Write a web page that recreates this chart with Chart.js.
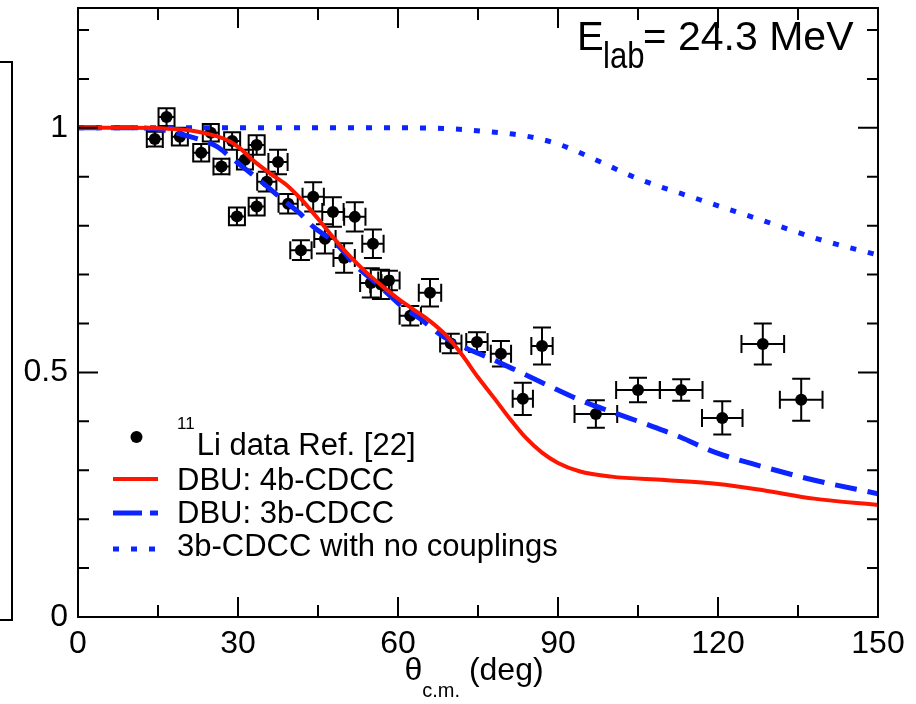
<!DOCTYPE html>
<html>
<head>
<meta charset="utf-8">
<script src="https://cdn.jsdelivr.net/npm/chart.js@4.4.1/dist/chart.umd.min.js"></script>
<style>
  html, body { margin: 0; padding: 0; background: #fff; }
  #wrap { width: 916px; height: 704px; }
</style>
</head>
<body>
<div id="wrap"><canvas id="chart" width="916" height="704"></canvas></div>
<script>
// measured 11Li elastic ratio (theta in deg, ratio, errors)
const thetaData = [14.4, 16.6, 19.1, 23.1, 24.9, 26.9, 28.9, 29.8, 31.3, 33.5, 33.5, 35.4, 37.5, 39.4,
  41.8, 44.1, 46.3, 47.8, 49.9, 51.9, 54.9, 55.3, 56.8, 58.3, 62.3, 66.0, 69.9, 74.8, 79.3, 83.4, 87.0,
  97.1, 105.0, 113.1, 120.8, 128.4, 135.6];
const ratioData = [0.977, 1.022, 0.982, 0.949, 0.990, 0.921, 0.973, 0.819, 0.935, 0.839, 0.965, 0.890, 0.930, 0.845,
  0.750, 0.859, 0.773, 0.828, 0.734, 0.818, 0.683, 0.763, 0.680, 0.688, 0.616, 0.663, 0.559, 0.562, 0.538, 0.446, 0.554,
  0.415, 0.464, 0.464, 0.407, 0.558, 0.444];
const thetaErr = [1.5, 1.5, 1.5, 1.5, 1.5, 1.5, 1.5, 1.5, 1.5, 1.5, 1.5, 1.8, 1.8, 1.8,
  2.0, 2.0, 2.0, 2.0, 2.0, 2.0, 2.0, 2.0, 2.0, 2.0, 2.0, 2.1, 2.0, 2.0, 1.9, 1.9, 2.0,
  4.0, 4.1, 4.0, 3.8, 4.0, 4.0];
const ratioErr = [0.015, 0.018, 0.018, 0.018, 0.018, 0.016, 0.018, 0.018, 0.02, 0.018, 0.02, 0.02, 0.025, 0.02,
  0.02, 0.03, 0.03, 0.03, 0.03, 0.03, 0.03, 0.029, 0.03, 0.02, 0.02, 0.028, 0.02, 0.02, 0.026, 0.033, 0.038,
  0.028, 0.025, 0.022, 0.034, 0.042, 0.043];

// DBU: 4b-CDCC
const theta4b = [0, 10, 17, 22, 26, 28.5, 30.5, 33, 36, 39, 42, 45, 48, 51, 54, 57, 60, 63, 66, 69,
  72, 75, 78, 81, 84, 87, 90, 94, 100, 110, 120, 128.5, 138, 150];
const ratio4b = [1.0, 1.0, 0.998, 0.993, 0.983, 0.972, 0.957, 0.932, 0.907, 0.884, 0.852, 0.814, 0.774, 0.737, 0.705, 0.677, 0.651, 0.628, 0.605, 0.576,
  0.536, 0.490, 0.448, 0.405, 0.366, 0.336, 0.315, 0.298, 0.287, 0.280, 0.272, 0.259, 0.242, 0.229];

// DBU: 3b-CDCC
const theta3b = [0, 10, 15, 21, 26, 28.5, 31.6, 34.7, 38.2, 41.6, 44.1, 48.5, 52.3, 56, 60, 64.1, 68.5, 72.9,
  76.6, 82, 88, 94, 100.4, 106.6, 112.9, 119.1, 128.5, 137.9, 150];
const ratio3b = [1.0, 1.0, 0.997, 0.982, 0.962, 0.941, 0.914, 0.887, 0.855, 0.825, 0.798, 0.762, 0.716, 0.682, 0.642, 0.61, 0.573, 0.549,
  0.532, 0.505, 0.474, 0.444, 0.418, 0.394, 0.368, 0.338, 0.307, 0.280, 0.252];

// 3b-CDCC with no couplings
const thetaNoCoup = [0, 30, 60, 70, 76, 83, 90, 98, 105, 116.6, 128, 139, 150];
const ratioNoCoup = [1.0, 1.0, 1.0, 0.998, 0.993, 0.985, 0.967, 0.93, 0.896, 0.853, 0.812, 0.772, 0.740];

const xLabelStep = 30;
const xMinorStep = 15;
const yLabels = { 0: '0', 0.5: '0.5', 1: '1' };

const FONT = '"Liberation Sans", Arial, Helvetica, sans-serif';
const RED = 'rgb(255,22,0)';
const BLUE = 'rgb(12,36,255)';

const pairs = (xs, ys) => xs.map((x, i) => ({ x: x, y: ys[i] }));

const dataPoints = thetaData.map((x, i) => ({ x: x, y: ratioData[i], dx: thetaErr[i], dy: ratioErr[i] }));

// error bars with caps, under the markers
const errorBars = {
  id: 'errorBars',
  beforeDatasetsDraw(chart) {
    const ctx = chart.ctx;
    const xs = chart.scales.x, ys = chart.scales.y;
    const cap = 9;
    ctx.save();
    ctx.strokeStyle = '#000';
    ctx.lineWidth = 2;
    dataPoints.forEach(p => {
      const cx = xs.getPixelForValue(p.x), cy = ys.getPixelForValue(p.y);
      const x0 = xs.getPixelForValue(p.x - p.dx), x1 = xs.getPixelForValue(p.x + p.dx);
      const y0 = ys.getPixelForValue(p.y - p.dy), y1 = ys.getPixelForValue(p.y + p.dy);
      ctx.beginPath();
      ctx.moveTo(x0, cy); ctx.lineTo(x1, cy);
      ctx.moveTo(cx, y0); ctx.lineTo(cx, y1);
      ctx.moveTo(x0, cy - cap); ctx.lineTo(x0, cy + cap);
      ctx.moveTo(x1, cy - cap); ctx.lineTo(x1, cy + cap);
      ctx.moveTo(cx - cap, y0); ctx.lineTo(cx + cap, y0);
      ctx.moveTo(cx - cap, y1); ctx.lineTo(cx + cap, y1);
      ctx.stroke();
    });
    ctx.restore();
  }
};

// frame, inward ticks, legend, titles
const decorations = {
  id: 'decorations',
  afterDraw(chart) {
    const ctx = chart.ctx;
    const a = chart.chartArea;
    const xs = chart.scales.x, ys = chart.scales.y;
    ctx.save();
    ctx.strokeStyle = '#000';
    ctx.lineWidth = 2;

    // edge of the neighbouring panel
    ctx.beginPath();
    ctx.moveTo(0, 62); ctx.lineTo(12, 62); ctx.lineTo(12, 620); ctx.lineTo(0, 620);
    ctx.stroke();

    ctx.strokeRect(a.left, a.top, a.right - a.left, a.bottom - a.top);

    ctx.beginPath();
    for (let v = xs.min; v <= xs.max + 1e-9; v += xMinorStep) {
      const px = xs.getPixelForValue(v);
      const len = (Math.round(v) % xLabelStep === 0) ? 20 : 12;
      ctx.moveTo(px, a.bottom); ctx.lineTo(px, a.bottom - len);
      ctx.moveTo(px, a.top); ctx.lineTo(px, a.top + len);
    }
    for (let i = 0; i <= 12; i++) {
      const py = ys.getPixelForValue(i / 10);
      const len = (i % 5 === 0) ? 20 : 11;
      ctx.moveTo(a.left, py); ctx.lineTo(a.left + len, py);
      ctx.moveTo(a.right, py); ctx.lineTo(a.right - len, py);
    }
    ctx.stroke();

    // legend
    const sx = a.left + 35, ex = a.left + 80, tx = a.left + 99;
    ctx.fillStyle = '#000';
    ctx.textBaseline = 'alphabetic';
    ctx.textAlign = 'left';
    ctx.beginPath();
    ctx.arc((sx + ex) / 2 + 1, 437, 6, 0, Math.PI * 2);
    ctx.fill();
    ctx.font = '17px ' + FONT;
    ctx.fillText('11', tx, 429);
    const supW = ctx.measureText('11').width;
    ctx.font = '31px ' + FONT;
    ctx.fillText('Li data Ref. [22]', tx + supW + 2, 455);
    ctx.fillText('DBU: 4b-CDCC', tx, 490);
    ctx.fillText('DBU: 3b-CDCC', tx, 523);
    ctx.fillText('3b-CDCC with no couplings', tx, 556);

    ctx.lineCap = 'butt';
    ctx.strokeStyle = RED; ctx.lineWidth = 4;
    ctx.beginPath(); ctx.moveTo(sx, 479); ctx.lineTo(ex, 479); ctx.stroke();
    ctx.strokeStyle = BLUE; ctx.lineWidth = 5;
    ctx.setLineDash([29, 8, 8, 8]);
    ctx.beginPath(); ctx.moveTo(sx, 513); ctx.lineTo(ex, 513); ctx.stroke();
    ctx.lineWidth = 5;
    ctx.setLineDash([6, 12]);
    ctx.beginPath(); ctx.moveTo(sx, 549); ctx.lineTo(ex + 2, 549); ctx.stroke();
    ctx.setLineDash([]);

    // beam energy
    ctx.fillStyle = '#000';
    ctx.font = '40px ' + FONT;
    ctx.fillText('E', 577, 50);
    ctx.fillText('=', 643, 50);
    ctx.font = '41px ' + FONT;
    ctx.fillText('24.3 MeV', 678, 50);
    ctx.save();
    ctx.translate(603, 68);
    ctx.scale(0.84, 1);
    ctx.font = '37px ' + FONT;
    ctx.fillText('lab', 0, 0);
    ctx.restore();

    // x axis title
    ctx.font = '32px ' + FONT;
    const thW = ctx.measureText('\u03b8').width;
    ctx.font = '20px ' + FONT;
    const cmW = ctx.measureText('c.m.').width;
    ctx.font = '32px ' + FONT;
    const degW = ctx.measureText(' (deg)').width;
    let x0 = (a.left + a.right) / 2 - 4 - (thW + cmW + degW) / 2;
    ctx.fillText('\u03b8', x0, 680);
    ctx.font = '20px ' + FONT;
    ctx.fillText('c.m.', x0 + thW, 697);
    ctx.font = '32px ' + FONT;
    ctx.fillText(' (deg)', x0 + thW + cmW, 680);

    ctx.restore();
  }
};

new Chart(document.getElementById('chart'), {
  type: 'scatter',
  data: {
    datasets: [
      {
        label: 'DBU: 4b-CDCC',
        type: 'line',
        data: pairs(theta4b, ratio4b),
        borderColor: RED,
        borderWidth: 4,
        pointRadius: 0,
        fill: false,
        cubicInterpolationMode: 'monotone',
        order: 0
      },
      {
        label: 'DBU: 3b-CDCC',
        type: 'line',
        data: pairs(theta3b, ratio3b),
        borderColor: BLUE,
        borderWidth: 5,
        borderDash: [22, 11],
        borderCapStyle: 'butt',
        pointRadius: 0,
        fill: false,
        cubicInterpolationMode: 'monotone',
        order: 1
      },
      {
        label: '3b-CDCC with no couplings',
        type: 'line',
        data: pairs(thetaNoCoup, ratioNoCoup),
        borderColor: BLUE,
        borderWidth: 5,
        borderDash: [6, 12],
        borderCapStyle: 'butt',
        pointRadius: 0,
        fill: false,
        cubicInterpolationMode: 'monotone',
        order: 2
      },
      {
        label: '11Li data Ref. [22]',
        data: dataPoints,
        pointRadius: 6,
        pointBackgroundColor: '#000',
        pointBorderWidth: 0,
        order: 3
      }
    ]
  },
  options: {
    responsive: false,
    animation: false,
    devicePixelRatio: 1,
    layout: { padding: { top: 8, right: 38, left: 0, bottom: 0 } },
    plugins: {
      legend: { display: false },
      tooltip: { enabled: false }
    },
    scales: {
      x: {
        type: 'linear',
        min: 0,
        max: 150,
        grid: { display: false, drawTicks: false },
        border: { display: false },
        ticks: {
          stepSize: xLabelStep,
          color: '#000',
          font: { family: FONT, size: 32 },
          padding: 8,
          maxRotation: 0
        },
        afterFit(scale) {
          scale.height = 87;
          scale.paddingLeft = 0;
          scale.paddingRight = 0;
        }
      },
      y: {
        type: 'linear',
        min: 0,
        max: 1.245,
        grid: { display: false, drawTicks: false },
        border: { display: false },
        ticks: {
          stepSize: 0.5,
          includeBounds: false,
          color: '#000',
          font: { family: FONT, size: 32 },
          padding: 10,
          callback: v => (yLabels[v] !== undefined ? yLabels[v] : '')
        },
        afterFit(scale) {
          scale.width = 78;
          scale.paddingTop = 0;
          scale.paddingBottom = 0;
        }
      }
    }
  },
  plugins: [errorBars, decorations]
});
</script>
</body>
</html>
